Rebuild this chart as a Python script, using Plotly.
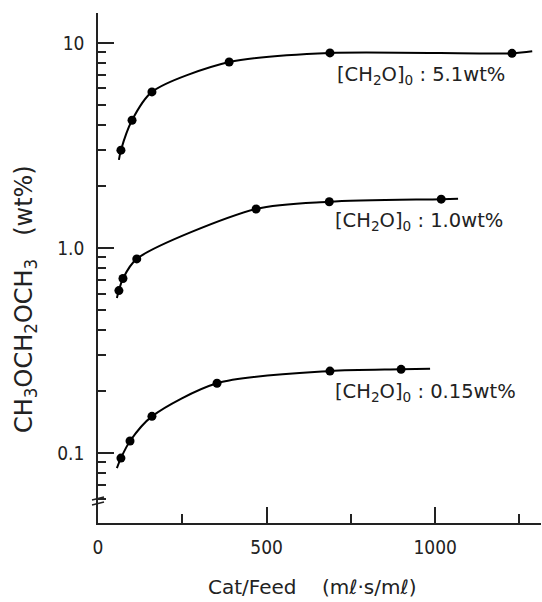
import plotly.graph_objects as go

# ---- data ----
x_51 = [68, 101, 160, 389, 688, 1228]
y_51 = [3.0, 4.2, 5.77, 8.07, 8.94, 8.9]
curve_x_51 = [62, 68, 101, 160, 389, 688, 1228, 1288]
curve_y_51 = [2.69, 3.0, 4.2, 5.77, 8.07, 8.94, 8.9, 9.1]

x_10 = [62, 74, 115, 469, 686, 1018]
y_10 = [0.62, 0.71, 0.885, 1.55, 1.68, 1.73]
curve_x_10 = [56, 62, 74, 115, 469, 686, 1018, 1068]
curve_y_10 = [0.57, 0.62, 0.71, 0.885, 1.55, 1.68, 1.73, 1.74]

x_015 = [68, 95, 160, 353, 688, 899]
y_015 = [0.0945, 0.1145, 0.151, 0.219, 0.251, 0.256]
curve_x_015 = [56, 68, 95, 160, 353, 688, 899, 985]
curve_y_015 = [0.0845, 0.0945, 0.1145, 0.151, 0.219, 0.251, 0.256, 0.258]

series_labels = ["[CH<sub>2</sub>O]<sub>0</sub> : 5.1wt%",
                 "[CH<sub>2</sub>O]<sub>0</sub> : 1.0wt%",
                 "[CH<sub>2</sub>O]<sub>0</sub> : 0.15wt%"]

x_major = [0, 500, 1000]
x_major_text = ["0", "500", "1000"]
x_minor = [250, 750, 1250]
y_major = [0.1, 1.0, 10]
y_major_text = ["0.1", "1.0", "10"]
y_minor = [0.06, 0.07, 0.08, 0.09,
           0.2, 0.3, 0.4, 0.5, 0.6, 0.7, 0.8, 0.9,
           2, 3, 4, 5, 6, 7, 8, 9]

x_title = "Cat/Feed\u00a0\u00a0\u00a0\u00a0(mℓ·s/mℓ)"
y_title = "CH<sub>3</sub>OCH<sub>2</sub>OCH<sub>3</sub>\u00a0\u00a0\u00a0(wt%)"

# ---- layout geometry (pixels) ----
W, H = 542, 602
L, R, T, B = 98, 1, 13, 79
PW, PH = W - L - R, H - T - B


def px(xpix):
    return (xpix - L) / PW


def py(ypix):
    return (H - B - ypix) / PH


NARROW = "Liberation Sans Narrow, DejaVu Sans Condensed, Arial Narrow, sans-serif"
WIDE = "DejaVu Sans, Verdana, sans-serif"

fig = go.Figure()
for cx, cy, mx, my in [(curve_x_51, curve_y_51, x_51, y_51),
                       (curve_x_10, curve_y_10, x_10, y_10),
                       (curve_x_015, curve_y_015, x_015, y_015)]:
    fig.add_trace(go.Scatter(x=cx, y=cy, mode="lines",
                             line=dict(color="black", width=2, shape="spline", smoothing=0.8),
                             showlegend=False, hoverinfo="skip"))
    fig.add_trace(go.Scatter(x=mx, y=my, mode="markers",
                             marker=dict(color="black", size=9),
                             showlegend=False))

fig.update_layout(
    width=W, height=H,
    margin=dict(l=L, r=R, t=T, b=B, pad=0),
    plot_bgcolor="white", paper_bgcolor="white",
    showlegend=False,
    xaxis=dict(range=[0, 1314], showgrid=False, zeroline=False,
               showline=True, linecolor="#222", linewidth=1.5,
               tickmode="array", tickvals=x_major, ticktext=x_major_text,
               ticks="inside", ticklen=16, tickwidth=1.5, tickcolor="#222",
               ticklabelstandoff=6,
               tickfont=dict(family=NARROW, size=19, color="#222"),
               minor=dict(tickmode="array", tickvals=x_minor, ticks="inside",
                          ticklen=9, tickwidth=1.5, tickcolor="#222", showgrid=False)),
    yaxis=dict(type="log", range=[-1.341, 1.146], showgrid=False, zeroline=False,
               showline=True, linecolor="#222", linewidth=1.5,
               tickmode="array", tickvals=y_major, ticktext=y_major_text,
               ticks="inside", ticklen=16, tickwidth=1.5, tickcolor="#222",
               ticklabelstandoff=8,
               tickfont=dict(family=NARROW, size=19, color="#222"),
               minor=dict(tickmode="array", tickvals=y_minor, ticks="inside",
                          ticklen=8, tickwidth=1.5, tickcolor="#222", showgrid=False)),
)

annotations = [
    dict(text=series_labels[0], x=px(335), y=py(75)),
    dict(text=series_labels[1], x=px(333), y=py(221)),
    dict(text=series_labels[2], x=px(333), y=py(392)),
]
for a in annotations:
    fig.add_annotation(xref="paper", yref="paper", x=a["x"], y=a["y"], text=a["text"],
                       showarrow=False, xanchor="left", yanchor="middle",
                       font=dict(family=WIDE, size=19.5, color="#222"))

fig.add_annotation(xref="paper", yref="paper", x=px(312), y=py(587), text=x_title,
                   showarrow=False, xanchor="center", yanchor="middle",
                   font=dict(family=WIDE, size=20, color="#222"))
fig.add_annotation(xref="paper", yref="paper", x=px(25), y=py(299), text=y_title,
                   showarrow=False, xanchor="center", yanchor="middle", textangle=-90,
                   font=dict(family=WIDE, size=24, color="#222"))

# axis break mark on the y axis
for dy in (0, 5):
    fig.add_shape(type="line", xref="paper", yref="paper",
                  x0=px(92), y0=py(500 + dy), x1=px(104), y1=py(497 + dy),
                  line=dict(color="#222", width=1.5))

fig.write_html("out.html")
